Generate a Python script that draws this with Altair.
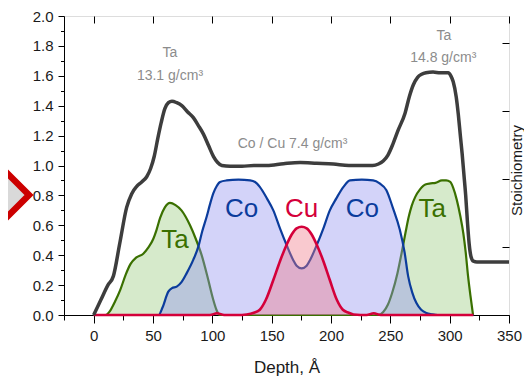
import altair as alt
import pandas as pd

# ---------------- data ----------------
depth_density = [0, 6, 12, 16.6, 22, 27.8, 32, 36.3, 40.5, 44.7, 48, 51, 54, 57, 60, 63, 66, 70,
                 74.3, 79, 84, 88, 92.5, 97, 101, 104.5, 108, 115, 125, 135, 146, 160, 174, 188,
                 202, 215, 228, 235, 240, 244, 248, 252, 256.5, 262.4, 266, 269.4, 273, 276.4,
                 280, 286, 292, 298.8, 301, 303, 305.5, 307.3, 309, 310.5, 312, 313.5, 315,
                 316.5, 318, 320, 323, 330, 350]
density = [0, 0.1, 0.2, 0.26, 0.48, 0.72, 0.81, 0.86, 0.89, 0.925, 0.98, 1.06, 1.18, 1.29, 1.38,
           1.42, 1.43, 1.42, 1.40, 1.36, 1.32, 1.27, 1.21, 1.13, 1.06, 1.02, 1.00, 0.995, 0.995,
           1.0, 1.0, 1.012, 1.02, 1.015, 1.01, 1.0, 1.0, 1.0, 1.01, 1.03, 1.07, 1.14, 1.235,
           1.35, 1.46, 1.54, 1.59, 1.61, 1.62, 1.625, 1.62, 1.62, 1.6, 1.56, 1.46, 1.34, 1.2,
           1.08, 0.94, 0.80, 0.62, 0.47, 0.39, 0.36, 0.355, 0.355, 0.355]

depth_ta = [0, 10, 14, 18, 22.5, 27, 31, 36, 41.8, 46, 50.3, 53, 56, 60, 64.3, 69, 74, 81.2, 86,
            91, 96.6, 100.5, 103.7, 106, 110, 240, 244, 248, 251.5, 256, 260, 263, 265.6, 268,
            271, 275, 279.5, 284, 288, 293.5, 297, 300.5, 303, 306, 309, 311.5, 313.5, 315.5,
            317.5, 319.7]
ta = [0, 0, 0.03, 0.09, 0.17, 0.27, 0.34, 0.385, 0.41, 0.45, 0.51, 0.57, 0.65, 0.72, 0.75, 0.735,
      0.70, 0.60, 0.51, 0.40, 0.234, 0.11, 0.03, 0, 0, 0, 0.02, 0.07, 0.147, 0.28, 0.435, 0.56,
      0.66, 0.73, 0.79, 0.84, 0.873, 0.88, 0.884, 0.90, 0.90, 0.89, 0.85, 0.77, 0.66, 0.547,
      0.42, 0.26, 0.13, 0]

depth_co = [0, 54.7, 58, 62.9, 66, 70, 74, 78.4, 84, 88.2, 91.5, 95.2, 98, 100.8, 103.5, 106.5,
            112, 122, 131.8, 136, 140, 146, 151.4, 157, 162.6, 168, 171, 175.3, 179.5, 182.5,
            188, 193.6, 199, 204.5, 210.5, 216, 226, 235.5, 241, 246.7, 252, 258, 262, 265,
            268.5, 272, 276, 280.4, 285, 290, 320]
co = [0, 0, 0.05, 0.156, 0.18, 0.19, 0.22, 0.28, 0.37, 0.457, 0.56, 0.657, 0.74, 0.814, 0.86,
      0.89, 0.90, 0.905, 0.90, 0.89, 0.857, 0.78, 0.70, 0.58, 0.468, 0.37, 0.33, 0.312, 0.33,
      0.37, 0.468, 0.58, 0.70, 0.78, 0.857, 0.90, 0.905, 0.90, 0.88, 0.835, 0.72, 0.57, 0.42,
      0.26, 0.15, 0.08, 0.035, 0.013, 0.005, 0, 0]

depth_cu = [0, 98, 104, 110, 125, 129, 135, 140, 145, 151.4, 157, 162.6, 167, 171, 175.3, 179.5,
            183.6, 188, 193.6, 199, 205, 210, 215, 219, 225, 230, 236, 242, 320]
cu = [0, 0, 0.012, 0, 0, 0.003, 0.015, 0.035, 0.1, 0.234, 0.36, 0.47, 0.54, 0.58, 0.59, 0.58,
      0.54, 0.47, 0.36, 0.234, 0.1, 0.035, 0.015, 0.003, 0, 0, 0.012, 0, 0]

label_text = ["Ta", "Co", "Cu", "Co", "Ta"]
label_depth = [68.5, 124.6, 175.3, 226.5, 285.3]
label_value = [0.446, 0.657, 0.657, 0.657, 0.657]
label_color = ["#3a7000", "#0b3c9c", "#d4003a", "#0b3c9c", "#3a7000"]

annot_text = ["Ta", "13.1 g/cm³", "Co / Cu 7.4 g/cm³", "Ta", "14.8 g/cm³"]
annot_depth = [64.3, 64.3, 167.6, 295.1, 294.6]
annot_value = [1.724, 1.572, 1.117, 1.839, 1.694]

x_ticks = list(range(-25, 351, 25))
x_top_ticks = list(range(0, 351, 50))
y_ticks = [round(i * 0.1, 1) for i in range(21)]
stoich_ticks = [0, 0.25, 0.5, 0.75, 1.0]

X_DOMAIN = [-25, 350]
Y_DOMAIN = [0, 2]
STOICH_DOMAIN = [0, 1.1]

FONT = "Liberation Sans"

# ---------------- chart ----------------
xs = alt.Scale(domain=X_DOMAIN, nice=False, zero=False)
ys = alt.Scale(domain=Y_DOMAIN, nice=False, zero=False)


def series(depths, values, stroke, fill, fill_opacity, width):
    df = pd.DataFrame({"depth": depths, "value": values})
    base = alt.Chart(df)
    enc = dict(x=alt.X("depth:Q", scale=xs, axis=None),
               y=alt.Y("value:Q", scale=ys, axis=None, stack=None))
    area = base.mark_area(interpolate="monotone", color=fill, opacity=fill_opacity).encode(**enc)
    line = base.mark_line(interpolate="monotone", color=stroke, strokeWidth=width).encode(**enc)
    return [area, line]


layers = []
layers += series(depth_ta, ta, "#3a7000", "#d6eacb", 1.0, 2.2)
layers += series(depth_co, co, "#0b3c9c", "#9090f0", 0.4, 2.2)
layers += series(depth_cu, cu, "#d4003a", "#f07888", 0.4, 2.6)

dens_df = pd.DataFrame({"depth": depth_density, "value": density})
dens = alt.Chart(dens_df).mark_line(interpolate="monotone", color="#3d3d3d", strokeWidth=3.5).encode(
    x=alt.X("depth:Q", scale=xs, axis=alt.Axis(
        values=x_ticks,
        labelExpr="datum.value % 50 == 0 ? format(datum.value, 'd') : ''",
        tickSize={"condition": {"test": "datum.value % 50 == 0", "value": 8}, "value": 5},
        labelPadding=5, labelFont=FONT, labelFontSize=15, labelColor="#1a1a1a",
        tickColor="#000", domainColor="#000", labelFlush=False,
        title="Depth, Å", titleFont=FONT, titleFontSize=17, titleFontWeight="normal",
        titleColor="#1a1a1a", titleBaseline="alphabetic", titleY=57, grid=False)),
    y=alt.Y("value:Q", scale=ys, axis=alt.Axis(
        values=y_ticks,
        labelExpr="round(datum.value * 10) % 2 == 0 ? format(datum.value, '.1f') : ''",
        tickSize={"condition": {"test": "round(datum.value * 10) % 2 == 0", "value": 6}, "value": 3.5},
        labelPadding=5, labelFont=FONT, labelFontSize=15, labelColor="#1a1a1a",
        tickColor="#000", domainColor="#000", labelFlush=False, title=None, grid=False)),
)

lab_df = pd.DataFrame({"depth": label_depth, "value": label_value, "text": label_text,
                       "color": label_color})
labels = alt.Chart(lab_df).mark_text(font=FONT, fontSize=26, align="center",
                                     baseline="alphabetic").encode(
    x=alt.X("depth:Q", scale=xs, axis=None),
    y=alt.Y("value:Q", scale=ys, axis=None),
    text="text:N",
    color=alt.Color("color:N", scale=None),
)

ann_df = pd.DataFrame({"depth": annot_depth, "value": annot_value, "text": annot_text})
annots = alt.Chart(ann_df).mark_text(font=FONT, fontSize=14, align="center",
                                     baseline="alphabetic", color="#8c8c8c").encode(
    x=alt.X("depth:Q", scale=xs, axis=None),
    y=alt.Y("value:Q", scale=ys, axis=None),
    text="text:N",
)

# top ticks (inward)
top_df = pd.DataFrame({"depth": x_top_ticks})
top_axis = alt.Chart(top_df).mark_point(opacity=0).encode(
    x=alt.X("depth:Q", scale=xs, axis=alt.Axis(
        orient="top", values=x_top_ticks, labels=False, domain=False, tickSize=7,
        offset=-7, tickColor="#000", title=None, grid=False)),
    y=alt.value(0),
)

# right stoichiometry axis (inward ticks)
st_df = pd.DataFrame({"s": stoich_ticks})
right_axis = alt.Chart(st_df).mark_point(opacity=0).encode(
    x=alt.value(0),
    y=alt.Y("s:Q", scale=alt.Scale(domain=STOICH_DOMAIN, nice=False, zero=False), axis=alt.Axis(
        orient="right", values=stoich_ticks, labels=False, domain=False, tickSize=7,
        offset=-7, tickColor="#000", grid=False,
        title="Stoichiometry", titleFont=FONT, titleFontSize=15, titleFontWeight="normal",
        titleColor="#1a1a1a", titleAngle=270, titleBaseline="bottom", titleAlign="center",
        titleX=22, titleY=154)),
)

# decorative diamond partly visible at the left edge
diamond = alt.Chart(pd.DataFrame({"k": [0]})).mark_point(
    shape="diamond", size=3364, filled=True, fill="#d9d9d9", stroke="#cc0000",
    strokeWidth=6.5, opacity=1, fillOpacity=1, strokeOpacity=1).encode(
    x=alt.value(-64), y=alt.value(179))

chart = alt.layer(*layers, dens, labels, annots, top_axis, right_axis, diamond).resolve_scale(
    x="independent", y="independent").resolve_axis(x="independent", y="independent").properties(
    width=445, height=299,
    padding={"left": 56, "top": 8, "right": 15, "bottom": 66},
    autosize=alt.AutoSizeParams(type="none"),
).configure_view(stroke="#000", strokeWidth=1).configure(background="white")

chart.save("out.html", embed_options={"renderer": "svg", "actions": False})
